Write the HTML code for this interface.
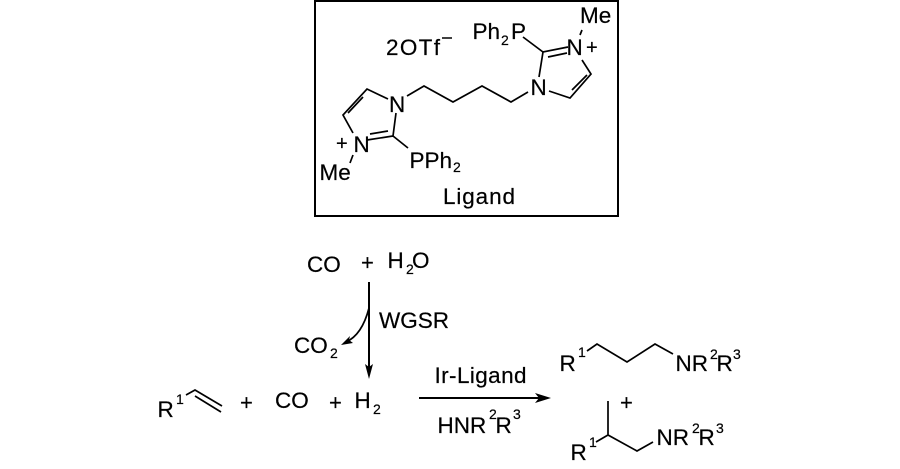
<!DOCTYPE html>
<html><head><meta charset="utf-8"><style>
html,body{margin:0;padding:0;background:#fff}
svg{display:block}
text{font-family:"Liberation Sans",sans-serif;font-size:22.5px;fill:#000;stroke:#000;stroke-width:.2}
.s{font-size:14px}
.b{fill:none;stroke:#000;stroke-width:1.7}
.a{fill:none;stroke:#000;stroke-width:2}
</style></head><body>
<svg width="900" height="469" viewBox="0 0 900 469" xmlns="http://www.w3.org/2000/svg">
<rect x="315" y="1" width="303" height="215" fill="none" stroke="#000" stroke-width="2"/>
<!-- right ring -->
<path class="b" d="M523,37L543,52L568,47M548,57L567,53M543,52L539,77M549,91L570,98L591,74L582,60M572,90L587,75M582,30L580,35"/>
<path class="b" d="M528,92L511,102L482,86L453,102L424,86L407,96"/>
<!-- left ring -->
<path class="b" d="M388,99L367,89L343,115L353,133M363,97L348,113M367,140L393,136L396,113M370,134L388,131M393,136L408,148M353,155L350,163"/>
<text x="386" y="55" textLength="54">2OTf</text>
<path d="M442,38H452" stroke="#000" stroke-width="1.5"/>
<text x="472.5" y="39">Ph</text><text class="s" x="501" y="45">2</text><text x="511" y="39">P</text>
<text x="580" y="23">Me</text>
<text x="566.5" y="55">N</text><text x="586" y="54" style="font-size:20px">+</text>
<text x="530.5" y="95">N</text>
<text x="389" y="112">N</text>
<text x="353.5" y="152">N</text><text x="336" y="150" style="font-size:20px">+</text>
<text x="409.5" y="168">PPh</text><text class="s" x="453" y="172">2</text>
<text x="319.5" y="180">Me</text>
<text x="443" y="204" textLength="72">Ligand</text>
<!-- WGSR -->
<text x="307" y="272">CO</text>
<text x="361" y="270" style="font-size:22px">+</text>
<text x="387.5" y="268">H</text><text class="s" x="406" y="274">2</text><text x="412" y="268">O</text>
<path class="a" d="M369,282V368"/>
<path d="M369,379L365,364L369,367L373,364Z"/>
<path class="b" d="M369,308Q362,335 346,342"/>
<path d="M341,345L350,336L349,340L353,343Z"/>
<text x="379" y="328">WGSR</text>
<text x="294" y="353">CO</text><text class="s" x="330" y="358">2</text>
<!-- reactants -->
<text x="157.5" y="417">R</text><text class="s" x="176" y="404">1</text>
<path class="b" d="M186,395L195,390L222,406M195,396L221,412"/>
<text x="240" y="410" style="font-size:22px">+</text>
<text x="275" y="408">CO</text>
<text x="329" y="410" style="font-size:22px">+</text>
<text x="354.5" y="408">H</text><text class="s" x="373" y="414">2</text>
<!-- arrow -->
<text x="434.5" y="383" textLength="92">Ir-Ligand</text>
<path class="a" d="M419,398H542"/>
<path d="M551,398L535,393L539,398L535,403Z"/>
<text x="437.5" y="433">HNR</text><text class="s" x="489" y="419">2</text><text x="495.5" y="433">R</text><text class="s" x="513" y="419">3</text>
<!-- product 1 -->
<text x="559.5" y="371">R</text><text class="s" x="578" y="357">1</text>
<path class="b" d="M587,351L597,344L627,362L655,344L673,354"/>
<text x="675.5" y="371">NR</text><text class="s" x="710" y="359">2</text><text x="716.5" y="371">R</text><text class="s" x="733" y="359">3</text>
<!-- product 2 -->
<text x="620" y="410" style="font-size:22px">+</text>
<path class="b" d="M608,401V435M596,442L608,435L637,451L653,442"/>
<text x="656.5" y="445">NR</text><text class="s" x="692" y="433">2</text><text x="698.5" y="445">R</text><text class="s" x="716" y="433">3</text>
<text x="570.5" y="460">R</text><text class="s" x="589" y="447">1</text>
</svg>
</body></html>
